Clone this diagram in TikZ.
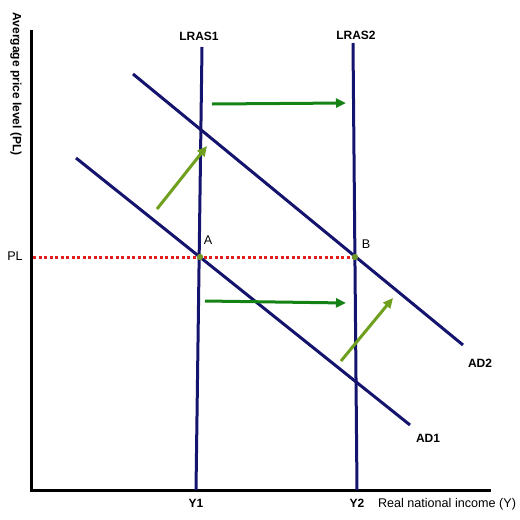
\documentclass[tikz,border=0pt]{standalone}
\usepackage{fontspec}
\setmainfont{Liberation Sans}
\usetikzlibrary{arrows.meta}
\definecolor{navy}{RGB}{20,20,110}
\definecolor{hgreen}{RGB}{20,130,20}
\definecolor{dgreen}{RGB}{110,160,30}
\definecolor{dotred}{RGB}{225,30,30}
\definecolor{ptgreen}{RGB}{110,150,40}
\tikzset{
  curve/.style={draw=navy, line width=3pt},
  axis/.style={draw=black, line width=3pt},
  lbl/.style={font=\fontsize{12}{14}\selectfont\bfseries, inner sep=0pt},
  lblr/.style={font=\fontsize{12.6}{14}\selectfont, inner sep=0pt},
  harrow/.style={draw=hgreen, line width=3pt, -{Triangle[length=10pt,width=9pt]}},
  darrow/.style={draw=dgreen, line width=3pt, -{Triangle[length=10pt,width=9pt]}},
}
\begin{document}
\begin{tikzpicture}[x=1pt,y=-1pt]
\useasboundingbox (0,0) rectangle (520,520);
% axes
\coordinate (O) at (31,490);
\coordinate (ytop) at (31,30);
\coordinate (xend) at (491,490);
\draw[axis] (ytop) -- (O) -- (xend);
% LRAS
\coordinate (l1t) at (202,47);
\coordinate (l1b) at (196,490);
\coordinate (l2t) at (353,43);
\coordinate (l2b) at (357,490);
\draw[curve] (l1t) -- (l1b);
\draw[curve] (l2t) -- (l2b);
% AD
\coordinate (ad1s) at (76,158);
\coordinate (ad1e) at (410,425);
\coordinate (ad2s) at (133,74);
\coordinate (ad2e) at (463,345);
\draw[curve] (ad1s) -- (ad1e);
\draw[curve] (ad2s) -- (ad2e);
% PL line
\coordinate (plA) at (33,257);
\coordinate (ptA) at (200,257);
\coordinate (ptB) at (355,257);
\draw[dotred, line width=3pt, dash pattern=on 3pt off 2.5pt] (plA) -- (ptB);
\fill[ptgreen] (ptA) circle (3.2pt);
\fill[ptgreen] (ptB) circle (3.2pt);
% arrows
\coordinate (h1s) at (212,104);
\coordinate (h1e) at (346,103);
\coordinate (h2s) at (205,301);
\coordinate (h2e) at (346,303);
\draw[harrow] (h1s) -- (h1e);
\draw[harrow] (h2s) -- (h2e);
\coordinate (d1s) at (157,209);
\coordinate (d1e) at (207,146);
\coordinate (d2s) at (341,361);
\coordinate (d2e) at (393,298);
\draw[darrow] (d1s) -- (d1e);
\draw[darrow] (d2s) -- (d2e);
% labels
\node[lbl] (tL1) at (199,36) {LRAS1};
\node[lbl] (tL2) at (356,35) {LRAS2};
\node[lbl] (tY1) at (196,503) {Y1};
\node[lbl] (tY2) at (357,503) {Y2};
\node[lblr] (tX) at (447,504) {Real national income (Y)};
\node[lbl] (tAD1) at (428,438) {AD1};
\node[lbl] (tAD2) at (480,363) {AD2};
\node[lblr] (tA) at (208,240) {A};
\node[lblr] (tB) at (366,244) {B};
\node[lblr] (tPL) at (15,256) {PL};
\node[lbl, rotate=-90] (tYax) at (16,84) {Avergage price level (PL)};
\end{tikzpicture}
\end{document}
